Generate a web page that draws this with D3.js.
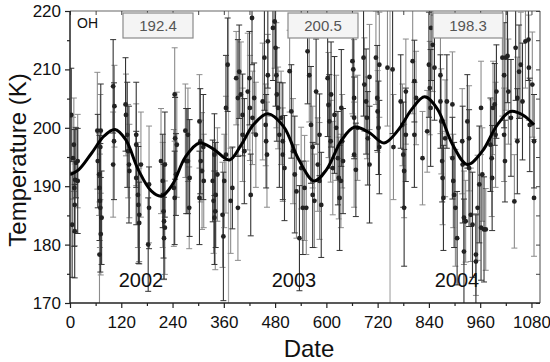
<!DOCTYPE html>
<html><head><meta charset="utf-8">
<script src="https://cdn.jsdelivr.net/npm/d3@7"></script>
<style>
html,body{margin:0;padding:0;background:#fff;}
svg{display:block;font-family:"Liberation Sans",Arial,sans-serif;}
</style></head>
<body><svg id="c" width="550" height="362"></svg>
<script>
// ---- data ----
const xTicks = [0,120,240,360,480,600,720,840,960,1080];
const xMinor = [60,180,300,420,540,660,780,900,1020];
const yTicks = [170,180,190,200,210,220];
const yMinor = [175,185,195,205,215];
const yearLabels = ["2002","2003","2004"];
const yearMeans = ["192.4","200.5","198.3"];
const yearBounds = [371,749];

const days = [
 // 2002 a
 3,7,5,9,10,11,11,12,14,18, 18,64,65,68,69,70,71,69,72,72,
 74,71,101,104,103,101,130,131,134,136, 138,139,155,155,155,159,160,162,162,166,
 183,185,185,213,217,217,219,220,220,222, 222,245,246,243,245,250,248,270,272,
 // b
 276,276,279,280,303,305,306,303,309,312, 313,334,336,338,340,341,345,338,357,359,
 361,365,365,369,376,380,389,393,393,396, 400,404,404,408,416,420,421,423,427,431,
 435,426,451,455,458,459,461,463,463,475, 479,481,483,484,487,490,494,498,498,502,
 514,518,522,526,530,537,541,545,549,
 // c
 556,560,564,568,568,572,576,580,584,584, 588,553,603,605,607,610,611,615,619,623,
 627,629,631,634,635,637,639,661,663,665, 665,665,669,673,687,689,693,695,697,701,
 701,716,719,720,722,724,724,743,755,757, 774,778,780,782,782,786,786,802,806,810,
 806,825,
 // d
 840,842,844,836,845,849,853,867,867,869, 871,872,874,878,882,895,895,897,899,902,
 906,918,919,922,922,926,930,934,934,938, 942,950,950,954,958,962,962,965,969,973,
 984,987,988,990,994,996,998,1012,1016,1016, 1018,1020,1024,1026,1032,1040,1043,1047,1051,1055,
 1059,1066,1073,1074,1076,1082,1086,1086,1047
];
const temps = [
 202.2,194.8,183.4,197.1,189.7,186.8,182.3,191.1,194,194.3, 190.9,199.5,194.3,192,189.7,187.5,186.3,178.3,199.5,181.8,
 184.6,196.7,207.1,203.7,197.7,193.7,204,202.2,198.8,196, 193.7,192.6,198.8,197.1,191.4,188.5,186.8,185.1,183.7,193.7,
 180,190.3,186.3,194.3,190.9,188.5,185.7,184,181.1,182.9, 193.7,205.7,198.2,189.7,188,197.1,192,199.5,194.3,
 198.8,194.3,186.3,191.4,201.1,197.7,194.3,188,192.6,196.7, 190.9,190.9,187.5,184.6,185.7,188.5,192,195.4,185.1,181.4,
 190.9,203.4,195.4,210.8,187.5,189.7,208.5,205.1,186.3,209.6, 205.7,202.2,198.8,196,206.2,208.5,203.4,188.5,201.7,205.1,
 198.8,218.8,204.5,212,200.5,197.7,195.4,214.8,209,217.1, 218.2,213.7,209,205.7,203.4,198.8,201.7,197.7,195.4,193.1,
 209.7,202.8,196,192,189.1,181.1,193.1,186.3,189.7,
 213.1,209,200.5,196.7,188.5,187.5,206.2,193.7,198.8,190.9, 186.8,186.3,208.5,203.9,201.1,197.7,205.7,193.1,202.2,200,
 194.8,191.4,188,190.9,203.4,197.7,194.3,211.4,210,205.1, 201.7,195.4,192.8,200,212,207.4,204.5,201.7,198.2,208.7,
 193.7,212,205.1,202.8,200,210.8,196.7,210.3,210,196.7, 204.5,200.5,195.4,192.6,186.3,206.2,198.8,211.4,208,205.1,
 198.8,194.8,
 210.8,206.8,203.4,199.4,217.1,214.2,210.3,209,204.5,201.1, 194.3,191.4,188,198.2,204.5,204,194.8,190.9,188.5,186.3,
 181.1,197.7,193.7,184.6,178.8,184,201.1,198.2,193.1,185.1, 183.4,178.3,177.1,186.3,190.3,203.4,182.9,192,182.6,182.6,
 197.1,194.8,191.4,203.4,204,198.8,206.2,212,209,198.8, 194.3,212,212.3,206.2,201.7,187.4,213.7,205.1,209.6,210.8,
 204.5,214.8,215.1,210.3,200.5,207.4,197.7,188,197.7
];
const errs = [
 8,7,9,8,10,7,8,9,6,8, 9,10,8,7,9,8,11,9,8,7,
 8,9,8,7,10,9,8,7,9,8, 10,8,9,7,8,9,10,8,7,9,
 8,10,7,9,8,9,8,10,7,8, 9,8,7,10,8,9,7,8,9,
 8,9,7,10,8,9,7,8,10,9, 8,7,9,8,10,9,8,7,9,11,
 8,9,10,8,9,7,8,10,9,8, 9,7,8,9,10,8,9,7,8,6,
 9,8,10,9,7,8,9,8,7,9, 8,10,9,8,7,9,8,10,8,9,
 7,8,9,10,8,9,7,8,9,
 9,8,10,7,9,8,9,8,7,10, 9,8,10,9,8,7,9,8,10,9,
 8,7,9,8,10,8,9,9,8,10, 7,9,8,9,10,8,9,7,8,9,
 10,8,9,7,8,9,8,10,11,9, 8,7,9,8,10,9,8,9,7,8,
 9,8,
 9,8,10,7,9,8,9,10,8,9, 7,8,9,10,8,9,7,8,9,10,
 8,9,10,8,9,7,8,9,10,8, 9,7,8,9,10,8,9,8,9,7,
 8,10,9,8,7,9,8,10,9,8, 7,9,8,9,10,8,9,7,8,9,
 10,8,7,9,8,9,8,10,9
];
// smoothed fit curve
const fitDays = [0,20,50,80,105,130,160,190,214,240,270,303,335,373,400,430,463,500,535,571,600,635,665,700,735,770,800,830,860,895,930,965,1000,1031,1060,1086];
const fitTemps = [192,192.8,195.6,198.6,199.7,198,192.8,189.2,188.3,190.3,195,197.4,196.4,194.5,197,200.6,202.4,200.2,194.6,190.9,192.8,197.8,200.1,199.2,197.4,199.8,203.2,205.3,203.2,197.2,193.7,196,200.5,202.8,202.2,200.5];

// ---- drawing ----
const FONT = "'Liberation Sans', Arial, sans-serif";
const svg = d3.select("#c");
const L=70,R=540,T=11,B=303;
const x = d3.scaleLinear().domain([0,1100]).range([L,R]);
const y = d3.scaleLinear().domain([170,220]).range([B,T]);

svg.append("defs").append("clipPath").attr("id","clip")
  .append("rect").attr("x",L).attr("y",T).attr("width",R-L).attr("height",B-T);

const plot = svg.append("g").attr("clip-path","url(#clip)");

// year separators
plot.selectAll("line.sep").data(yearBounds).join("line")
  .attr("x1",d=>x(d)).attr("x2",d=>x(d)).attr("y1",T).attr("y2",B)
  .attr("stroke","#aaa").attr("stroke-width",1.2);

const n = Math.min(days.length,temps.length,errs.length);
const pts = d3.range(n).map(i=>({d:days[i],t:temps[i],e:errs[i],i}));
const barColor = p => (p.i%2===0) ? "#333" : "#8c8c8c";

const eb = plot.append("g");
pts.filter(p=>p.i%2===1).concat(pts.filter(p=>p.i%2===0)).forEach(p=>{
  const cx=x(p.d), y1=y(p.t+p.e), y2=y(p.t-p.e), c=barColor(p);
  eb.append("line").attr("x1",cx).attr("x2",cx).attr("y1",y1).attr("y2",y2).attr("stroke",c).attr("stroke-width",1.1);
  eb.append("line").attr("x1",cx-3).attr("x2",cx+3).attr("y1",y1).attr("y2",y1).attr("stroke",c).attr("stroke-width",1);
  eb.append("line").attr("x1",cx-3).attr("x2",cx+3).attr("y1",y2).attr("y2",y2).attr("stroke",c).attr("stroke-width",1);
});
plot.append("g").selectAll("circle").data(pts).join("circle")
  .attr("cx",p=>x(p.d)).attr("cy",p=>y(p.t)).attr("r",2.4)
  .attr("fill","#222");

// fit curve
plot.append("path")
  .datum(fitDays.map((d,i)=>[d,fitTemps[i]]))
  .attr("fill","none").attr("stroke","#000").attr("stroke-width",3)
  .attr("d",d3.line().x(d=>x(d[0])).y(d=>y(d[1])).curve(d3.curveCatmullRom.alpha(0.5)));

// frame
svg.append("line").attr("x1",L).attr("x2",R).attr("y1",T).attr("y2",T).attr("stroke","#666").attr("stroke-width",1.2);
svg.append("line").attr("x1",R).attr("x2",R).attr("y1",T).attr("y2",B).attr("stroke","#666").attr("stroke-width",1.2);

// top & right inward ticks
svg.append("g").attr("transform",`translate(0,${T})`)
  .call(d3.axisBottom(x).tickValues(xTicks.concat(xMinor)).tickSize(4).tickSizeOuter(0).tickFormat(""))
  .call(g=>{g.select(".domain").remove(); g.selectAll("line").attr("stroke","#444");});
svg.append("g").attr("transform",`translate(${R},0)`)
  .call(d3.axisLeft(y).tickValues(yTicks.concat(yMinor)).tickSize(4).tickSizeOuter(0).tickFormat(""))
  .call(g=>{g.select(".domain").remove(); g.selectAll("line").attr("stroke","#444");});

// bottom axis
const fs = 17;
svg.append("g").attr("transform",`translate(0,${B})`)
  .call(d3.axisBottom(x).tickValues(xMinor).tickSize(3).tickSizeOuter(0).tickFormat(""))
  .call(g=>{g.select(".domain").remove(); g.selectAll("line").attr("stroke","#222").attr("stroke-width",1.2);});
svg.append("g").attr("transform",`translate(0,${B})`)
  .call(d3.axisBottom(x).tickValues(xTicks).tickSize(5).tickPadding(8).tickSizeOuter(0).tickFormat(d3.format("d")))
  .call(g=>{
    g.select(".domain").attr("d",`M${L},0H${R}`).attr("stroke","#222").attr("stroke-width",1.5);
    g.selectAll("line").attr("stroke","#222").attr("stroke-width",1.2);
    g.selectAll("text").attr("font-size",fs).attr("fill","#111").attr("font-family",FONT);
  });

// left axis
svg.append("g").attr("transform",`translate(${L},0)`)
  .call(d3.axisLeft(y).tickValues(yMinor).tickSize(3).tickSizeOuter(0).tickFormat(""))
  .call(g=>{g.select(".domain").remove(); g.selectAll("line").attr("stroke","#222").attr("stroke-width",1.2);});
svg.append("g").attr("transform",`translate(${L},0)`)
  .call(d3.axisLeft(y).tickValues(yTicks).tickSize(5).tickPadding(4).tickSizeOuter(0).tickFormat(d3.format("d")))
  .call(g=>{
    g.select(".domain").attr("d",`M0,${B}V${T}`).attr("stroke","#222").attr("stroke-width",1.5);
    g.selectAll("line").attr("stroke","#222").attr("stroke-width",1.2);
    g.selectAll("text").attr("font-size",fs).attr("fill","#111").attr("font-family",FONT);
  });

// axis titles
svg.append("text").attr("x",309).attr("y",357).attr("text-anchor","middle")
  .attr("font-family",FONT).attr("font-size",24).attr("fill","#111").text("Date");
svg.append("text").attr("transform","translate(26,160) rotate(-90)").attr("text-anchor","middle")
  .attr("font-family",FONT).attr("font-size",24).attr("fill","#111").text("Temperature (K)");

// OH label
svg.append("text").attr("x",77).attr("y",28).attr("font-family",FONT).attr("font-size",14).attr("fill","#111").text("OH");

// mean boxes
const boxX = [123,288,433];
yearMeans.forEach((m,i)=>{
  svg.append("rect").attr("x",boxX[i]).attr("y",13).attr("width",70).attr("height",25)
    .attr("fill","#f4f4f4").attr("stroke","#8a8a8a").attr("stroke-width",1.2);
  svg.append("text").attr("x",boxX[i]+35).attr("y",31).attr("text-anchor","middle")
    .attr("font-family",FONT).attr("font-size",15).attr("fill","#555").text(m);
});

// year labels
const yearX = [141,294,457];
yearLabels.forEach((t,i)=>{
  svg.append("text").attr("x",yearX[i]).attr("y",287).attr("text-anchor","middle")
    .attr("font-family",FONT).attr("font-size",20).attr("fill","#111").text(t);
});
</script></body></html>
